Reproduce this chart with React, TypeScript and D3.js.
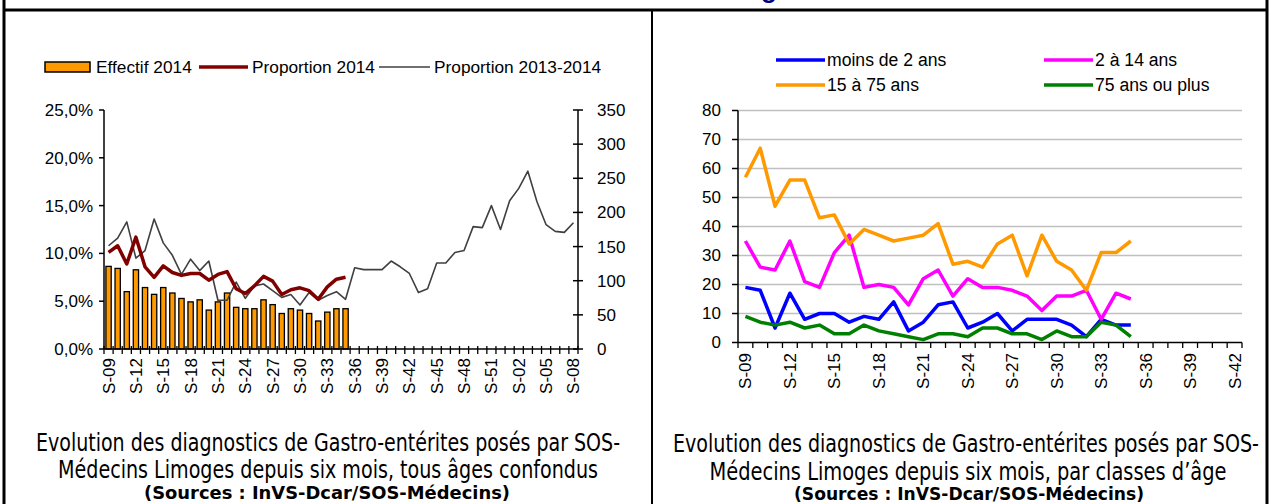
import React from 'react';
import * as d3 from 'd3';

// week labels (S-09 2014 ... S-08 2015)
const weeks = [
  'S-09', 'S-10', 'S-11', 'S-12', 'S-13', 'S-14', 'S-15', 'S-16', 'S-17', 'S-18', 'S-19', 'S-20', 'S-21',
  'S-22', 'S-23', 'S-24', 'S-25', 'S-26', 'S-27', 'S-28', 'S-29', 'S-30', 'S-31', 'S-32', 'S-33', 'S-34',
  'S-35', 'S-36', 'S-37', 'S-38', 'S-39', 'S-40', 'S-41', 'S-42', 'S-43', 'S-44', 'S-45', 'S-46', 'S-47',
  'S-48', 'S-49', 'S-50', 'S-51', 'S-52', 'S-01', 'S-02', 'S-03', 'S-04', 'S-05', 'S-06', 'S-07', 'S-08',
];
const weeksAge = weeks.slice(0, 34);

// left chart
const effectif2014 = [121, 118, 84, 116, 90, 80, 90, 82, 74, 69, 72, 57, 69, 82, 61, 59, 59, 72, 65, 52, 59, 57, 52, 41, 54, 59, 59];
const proportion2014 = [10.1, 10.8, 8.9, 11.7, 8.6, 7.5, 8.7, 8.0, 7.7, 7.9, 7.9, 7.2, 7.8, 8.1, 6.3, 5.8, 6.6, 7.6, 7.1, 5.7, 6.2, 6.4, 6.1, 5.2, 6.5, 7.3, 7.5];
const proportion20132014 = [
  10.8, 11.6, 13.3, 9.5, 10.3, 13.6, 11.1, 9.8, 7.8, 9.4, 8.2, 9.2, 5.1, 5.1, 7.0, 5.3, 6.6, 6.8, 6.1, 5.4,
  5.7, 4.6, 5.9, 5.1, 5.6, 6.0, 5.2, 8.5, 8.3, 8.3, 8.3, 9.2, 8.6, 7.9, 5.9, 6.3, 9.0, 9.0, 10.1, 10.3,
  12.8, 12.7, 15.0, 12.5, 15.5, 16.8, 18.6, 15.4, 13.0, 12.3, 12.2, 13.2,
];
const pctTicks = [0, 5, 10, 15, 20, 25];
const cntTicks = [0, 50, 100, 150, 200, 250, 300, 350];

// right chart (by age)
const moins2 = [19, 18, 5, 17, 8, 10, 10, 7, 9, 8, 14, 4, 7, 13, 14, 5, 7, 10, 4, 8, 8, 8, 6, 2, 8, 6, 6];
const de2a14 = [35, 26, 25, 35, 21, 19, 31, 37, 19, 20, 19, 13, 22, 25, 16, 22, 19, 19, 18, 16, 11, 16, 16, 18, 8, 17, 15];
const de15a75 = [57, 67, 47, 56, 56, 43, 44, 34, 39, 37, 35, 36, 37, 41, 27, 28, 26, 34, 37, 23, 37, 28, 25, 18, 31, 31, 35];
const plus75 = [9, 7, 6, 7, 5, 6, 3, 3, 6, 4, 3, 2, 1, 3, 3, 2, 5, 5, 3, 3, 1, 4, 2, 2, 7, 6, 2];
const ageTicks = [0, 10, 20, 30, 40, 50, 60, 70, 80];

const ageSeries = [
  { name: 'moins de 2 ans', values: moins2, color: '#0000ff' },
  { name: '2 à 14 ans', values: de2a14, color: '#ff00ff' },
  { name: '15 à 75 ans', values: de15a75, color: '#ff9900' },
  { name: '75 ans ou plus', values: plus75, color: '#008000' },
];

const W = 1271;
const H = 504;
const FONT = '"Liberation Sans", Arial, sans-serif';
const CAPTION_FONT = '"Liberation Sans Narrow", "DejaVu Sans Condensed", "Liberation Sans", sans-serif';

export default function App() {
  // ---- left chart scales
  const xL = d3.scaleBand<string>().domain(weeks).range([104, 578]).paddingInner(0.42).paddingOuter(0.21);
  const stepL = xL.step();
  const cxL = (i: number) => (xL(weeks[i]) as number) + xL.bandwidth() / 2;
  const yPct = d3.scaleLinear().domain([0, 25]).range([349, 110]);
  const yCnt = d3.scaleLinear().domain([0, 350]).range([349, 110]);

  const pctLine = d3.line<number>().x((_, i) => cxL(i)).y((d) => yPct(d));

  // ---- right chart scales
  const xR = d3.scaleBand<string>().domain(weeksAge).range([738, 1242]);
  const cxR = (i: number) => (xR(weeksAge[i]) as number) + xR.bandwidth() / 2;
  const yR = d3.scaleLinear().domain([0, 80]).range([342.5, 110.5]);
  const ageLine = d3.line<number>().x((_, i) => cxR(i)).y((d) => yR(d));

  const fmtPct = (v: number) => v.toFixed(1).replace('.', ',') + '%';

  return (
    <div style={{ position: 'absolute', left: 0, top: 0, width: W, height: H, background: '#fff' }}>
      <svg width={W} height={H} style={{ display: 'block' }}>
        <rect x={0} y={0} width={W} height={H} fill="#fff" />

        {/* page heading, mostly cut off at the top (as in the source page) */}
        <g fill="#000080" fontFamily={FONT} fontWeight="bold" fontSize={26}>
          <text x={761} y={-2} textAnchor="end">Surveillance des Gastro-entérites - SOS-Médecins Limo</text>
          <text x={761} y={-2}>ges</text>
        </g>

        {/* frame */}
        <g stroke="#000">
          <line x1={4} y1={0} x2={4} y2={H} strokeWidth={3} />
          <line x1={1267} y1={0} x2={1267} y2={H} strokeWidth={3} />
          <line x1={3} y1={10} x2={1268} y2={10} strokeWidth={3} />
          <line x1={652} y1={10} x2={652} y2={H} strokeWidth={2} />
        </g>

        {/* ================= LEFT CHART ================= */}
        <g fontFamily={FONT} fontSize={17} fill="#000">
          {/* legend */}
          <g fontSize={17.3}>
            <rect x={45} y={62} width={45} height={10} fill="#ff9900" stroke="#000" strokeWidth={1.5} />
            <text x={96} y={73}>Effectif 2014</text>
            <line x1={199} x2={248} y1={67} y2={67} stroke="#800000" strokeWidth={3.5} />
            <text x={252} y={73}>Proportion 2014</text>
            <line x1={379} x2={430} y1={67} y2={67} stroke="#404040" strokeWidth={1.5} />
            <text x={434} y={73}>Proportion 2013-2014</text>
          </g>

          {/* bars */}
          {effectif2014.map((v, i) => (
            <rect
              key={`b${i}`}
              x={xL(weeks[i]) as number}
              y={yCnt(v)}
              width={xL.bandwidth()}
              height={yCnt(0) - yCnt(v)}
              fill="#ff9900"
              stroke="#000"
              strokeWidth={1.3}
            />
          ))}

          {/* lines */}
          <path d={pctLine(proportion20132014) || ''} fill="none" stroke="#404040" strokeWidth={1.6} strokeLinejoin="round" />
          <path d={pctLine(proportion2014) || ''} fill="none" stroke="#800000" strokeWidth={3.5} strokeLinejoin="round" />

          {/* left axis */}
          <line x1={104} x2={104} y1={110} y2={349} stroke="#000" strokeWidth={1.5} />
          {pctTicks.map((t) => (
            <g key={`lp${t}`}>
              <line x1={99} x2={104} y1={yPct(t)} y2={yPct(t)} stroke="#000" strokeWidth={1.5} />
              <text x={93} y={yPct(t)} dy="0.35em" textAnchor="end">{fmtPct(t)}</text>
            </g>
          ))}

          {/* right axis */}
          <line x1={578} x2={578} y1={110} y2={349} stroke="#000" strokeWidth={1.5} />
          {cntTicks.map((t) => (
            <g key={`rc${t}`}>
              <line x1={573} x2={583} y1={yCnt(t)} y2={yCnt(t)} stroke="#000" strokeWidth={1.5} />
              <text x={597} y={yCnt(t)} dy="0.35em">{t}</text>
            </g>
          ))}

          {/* x axis */}
          <line x1={104} x2={578} y1={349} y2={349} stroke="#000" strokeWidth={1.5} />
          {d3.range(weeks.length + 1).map((k) => (
            <line key={`xt${k}`} x1={104 + k * stepL} x2={104 + k * stepL} y1={346} y2={354} stroke="#000" strokeWidth={1.3} />
          ))}
          {weeks.map((w, i) =>
            i % 3 === 0 ? (
              <text key={`xl${w}`} transform={`translate(${cxL(i)},358) rotate(-90)`} dy="0.35em" textAnchor="end">
                {w}
              </text>
            ) : null,
          )}
        </g>

        {/* caption left */}
        <g fontFamily={CAPTION_FONT} textAnchor="middle" fill="#000">
          <text x={328} y={451} fontSize={24} textLength={584} lengthAdjust="spacingAndGlyphs">
            Evolution des diagnostics de Gastro-entérites posés par SOS-
          </text>
          <text x={328} y={478} fontSize={24} textLength={540} lengthAdjust="spacingAndGlyphs">
            Médecins Limoges depuis six mois, tous âges confondus
          </text>
          <text x={327} y={499} fontSize={17} fontWeight="bold" textLength={366} lengthAdjust="spacingAndGlyphs">
            (Sources : InVS-Dcar/SOS-Médecins)
          </text>
        </g>

        {/* ================= RIGHT CHART ================= */}
        <g fontFamily={FONT} fontSize={17} fill="#000">
          {/* legend */}
          {ageSeries.map((s, k) => {
            const lx = k % 2 === 0 ? 776 : 1044;
            const ly = k < 2 ? 60 : 85;
            return (
              <g key={`lg${k}`}>
                <line x1={lx} x2={lx + 49} y1={ly} y2={ly} stroke={s.color} strokeWidth={3.5} />
                <text x={lx + 51} y={ly} dy="0.35em" fontSize={17.6}>{s.name}</text>
              </g>
            );
          })}

          {/* gridlines */}
          {ageTicks.filter((t) => t > 0).map((t) => (
            <line key={`g${t}`} x1={738} x2={1242} y1={yR(t)} y2={yR(t)} stroke="#c0c0c0" strokeWidth={1.5} />
          ))}

          {/* series */}
          {ageSeries.map((s) => (
            <path key={s.name} d={ageLine(s.values) || ''} fill="none" stroke={s.color} strokeWidth={3.5} strokeLinejoin="round" />
          ))}

          {/* y axis */}
          <line x1={738} x2={738} y1={110.5} y2={342.5} stroke="#000" strokeWidth={1.5} />
          {ageTicks.map((t) => (
            <g key={`ay${t}`}>
              <line x1={732} x2={738} y1={yR(t)} y2={yR(t)} stroke="#000" strokeWidth={1.5} />
              <text x={721} y={yR(t)} dy="0.35em" textAnchor="end">{t}</text>
            </g>
          ))}

          {/* x axis */}
          <line x1={738} x2={1242} y1={342.5} y2={342.5} stroke="#000" strokeWidth={1.5} />
          {d3.range(weeksAge.length + 1).map((k) => (
            <line key={`axt${k}`} x1={738 + k * xR.step()} x2={738 + k * xR.step()} y1={342.5} y2={348} stroke="#000" strokeWidth={1.3} />
          ))}
          {weeksAge.map((w, i) =>
            i % 3 === 0 ? (
              <text key={`axl${w}`} transform={`translate(${cxR(i)},353) rotate(-90)`} dy="0.35em" textAnchor="end">
                {w}
              </text>
            ) : null,
          )}
        </g>

        {/* caption right */}
        <g fontFamily={CAPTION_FONT} textAnchor="middle" fill="#000">
          <text x={966} y={452} fontSize={24} textLength={586} lengthAdjust="spacingAndGlyphs">
            Evolution des diagnostics de Gastro-entérites posés par SOS-
          </text>
          <text x={968} y={480} fontSize={24} textLength={517} lengthAdjust="spacingAndGlyphs">
            Médecins Limoges depuis six mois, par classes d’âge
          </text>
          <text x={969} y={500} fontSize={17} fontWeight="bold" textLength={350} lengthAdjust="spacingAndGlyphs">
            (Sources : InVS-Dcar/SOS-Médecins)
          </text>
        </g>
      </svg>
    </div>
  );
}
